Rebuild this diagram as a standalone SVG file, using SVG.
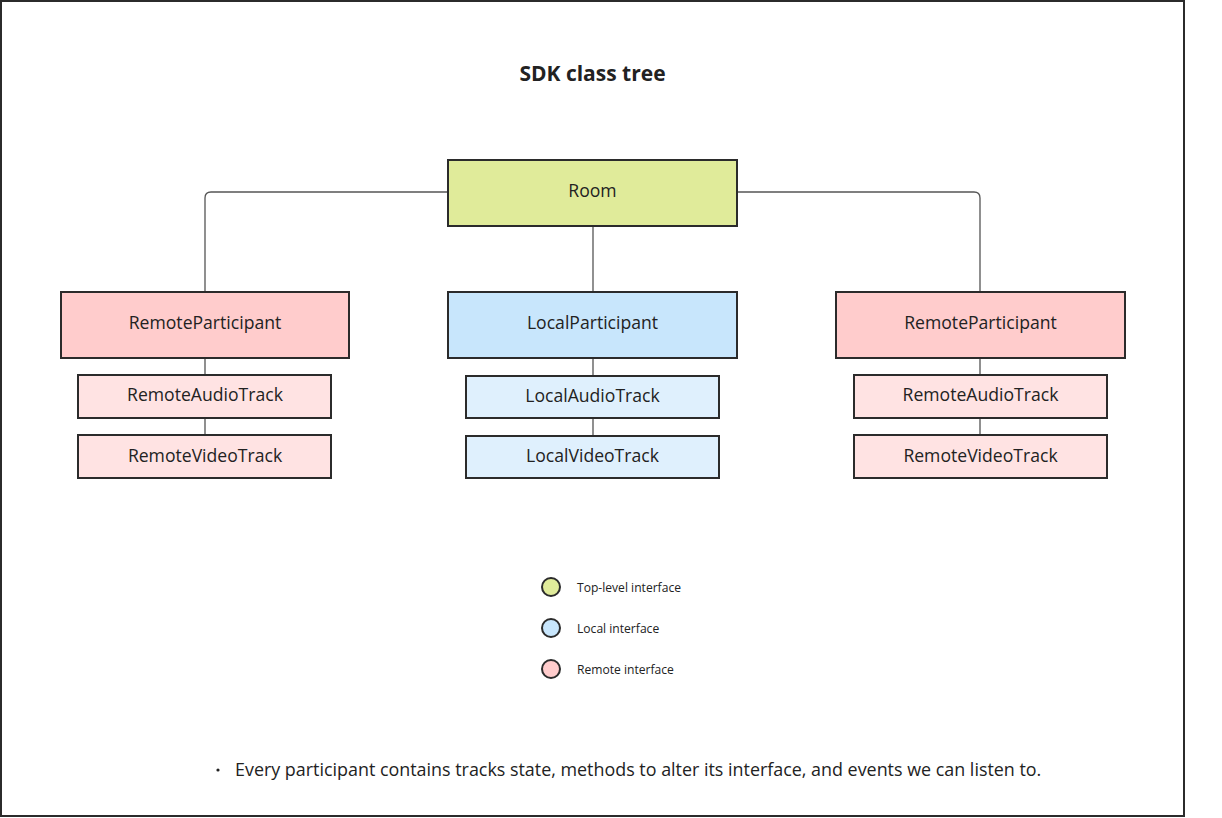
<svg xmlns="http://www.w3.org/2000/svg" width="1222" height="818" viewBox="0 0 1222 818">
  <style>
    .box { stroke: #2b2b2b; stroke-width: 2; }
    .top { fill: #e0eb9a; }
    .local { fill: #c8e6fc; }
    .remote { fill: #ffcccc; }
    .local-track { fill: #dff0fd; }
    .remote-track { fill: #ffe3e3; }
    .label { font-family: "Open Sans", "Liberation Sans", sans-serif; font-size: 17.6px; fill: #222; text-anchor: middle; dominant-baseline: central; }
    .legend { font-family: "Open Sans", "Liberation Sans", sans-serif; font-size: 12.1px; fill: #222; dominant-baseline: central; }
    .wire { fill: none; stroke: #555; stroke-width: 1.3; }
  </style>

  <rect width="1222" height="818" fill="#ffffff"/>
  <!-- frame -->
  <rect x="1" y="1" width="1183" height="815" fill="none" stroke="#2b2b2b" stroke-width="2"/>

  <text x="592.5" y="73" font-family="Open Sans, Liberation Sans, sans-serif" font-size="21" font-weight="bold" fill="#222" text-anchor="middle" dominant-baseline="central">SDK class tree</text>

  <g id="connectors">
    <path class="wire" d="M448 192 H211 Q205 192 205 198 V292"/>
    <path class="wire" d="M737 192 H974 Q980 192 980 198 V292"/>
    <path class="wire" d="M593 226 V292"/>
    <path class="wire" d="M205 358 V376 M205 418 V436"/>
    <path class="wire" d="M593 358 V376 M593 418 V436"/>
    <path class="wire" d="M980 358 V376 M980 418 V436"/>
  </g>

  <g id="room">
    <rect class="box top" x="448" y="160" width="289" height="66"/>
    <text class="label" x="592.5" y="190">Room</text>
  </g>

  <g id="remote-participant-left">
    <rect class="box remote" x="61" y="292" width="288" height="66"/>
    <text class="label" x="205" y="322">RemoteParticipant</text>
  </g>
  <g id="remote-audio-left">
    <rect class="box remote-track" x="78" y="375" width="253" height="43"/>
    <text class="label" x="205" y="394">RemoteAudioTrack</text>
  </g>
  <g id="remote-video-left">
    <rect class="box remote-track" x="78" y="435" width="253" height="43"/>
    <text class="label" x="205" y="455">RemoteVideoTrack</text>
  </g>

  <g id="local-participant">
    <rect class="box local" x="448" y="292" width="289" height="66"/>
    <text class="label" x="592.5" y="322">LocalParticipant</text>
  </g>
  <g id="local-audio">
    <rect class="box local-track" x="466" y="376" width="253" height="42"/>
    <text class="label" x="592.5" y="395">LocalAudioTrack</text>
  </g>
  <g id="local-video">
    <rect class="box local-track" x="466" y="436" width="253" height="42"/>
    <text class="label" x="592.5" y="455">LocalVideoTrack</text>
  </g>

  <g id="remote-participant-right">
    <rect class="box remote" x="836" y="292" width="289" height="66"/>
    <text class="label" x="980.5" y="322">RemoteParticipant</text>
  </g>
  <g id="remote-audio-right">
    <rect class="box remote-track" x="854" y="375" width="253" height="43"/>
    <text class="label" x="980.5" y="394">RemoteAudioTrack</text>
  </g>
  <g id="remote-video-right">
    <rect class="box remote-track" x="854" y="435" width="253" height="43"/>
    <text class="label" x="980.5" y="455">RemoteVideoTrack</text>
  </g>

  <g id="legend">
    <circle class="box top" cx="551" cy="587" r="9"/>
    <text class="legend" x="577" y="587">Top-level interface</text>
    <circle class="box local" cx="551" cy="628" r="9"/>
    <text class="legend" x="577" y="628">Local interface</text>
    <circle class="box remote" cx="551" cy="669" r="9"/>
    <text class="legend" x="577" y="669">Remote interface</text>
  </g>

  <g id="note">
    <circle cx="218" cy="770" r="1.6" fill="#222"/>
    <text x="235" y="768.5" font-family="Open Sans, Liberation Sans, sans-serif" font-size="17.9" fill="#222" dominant-baseline="central">Every participant contains tracks state, methods to alter its interface, and events we can listen to.</text>
  </g>
</svg>
